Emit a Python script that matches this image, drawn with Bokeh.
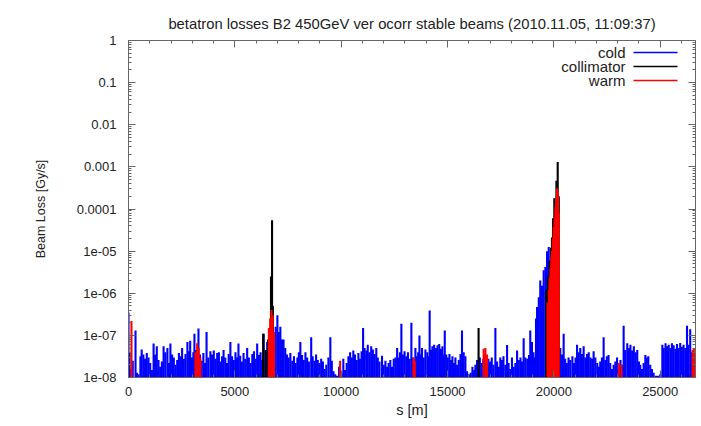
from bokeh.plotting import figure
from bokeh.models import (ColumnDataSource, FixedTicker, Range1d, LinearAxis,
                          LogAxis, Label, BoxAnnotation, CustomLabelingPolicy)
from bokeh.embed import file_html
from bokeh.resources import INLINE

# ---------------- texts ----------------
title_text = "betatron losses B2 450GeV ver ocorr stable beams (2010.11.05, 11:09:37)"
x_label = "s [m]"
y_label = "Beam Loss [Gy/s]"
series_names = ["cold", "collimator", "warm"]
series_colors = ["#0000ff", "#000000", "#ff0000"]

x_ticks = [0, 5000, 10000, 15000, 20000, 25000]
x_tick_labels = ["0", "5000", "10000", "15000", "20000", "25000"]
y_ticks = [1e-8, 1e-7, 1e-6, 1e-5, 1e-4, 1e-3, 1e-2, 1e-1, 1.0]
y_tick_labels = ["1e-08", "1e-07", "1e-06", "1e-05", "0.0001", "0.001", "0.01", "0.1", "1"]

s_max = 26659      # ring circumference [m]
loss_floor = 1e-8  # lower end of the log axis [Gy/s]

# ---------------- data: (s [m], loss [Gy/s]) ----------------
cold_0_5km = [
    (0, 3.5e-7), (50, 4e-8), (120, 1.6e-8), (200, 2.5e-8), (330, 1.3e-7), (400, 1.3e-8),
    (470, 1.2e-8), (560, 3.2e-8), (620, 4.6e-8), (700, 3.5e-8), (780, 2.8e-8), (860, 3.8e-8),
    (940, 3.0e-8), (1020, 2.2e-8), (1100, 1.5e-8), (1180, 6.4e-8), (1250, 3.5e-8), (1330, 5.5e-8),
    (1410, 2.6e-8), (1490, 1.8e-8), (1570, 2.4e-8), (1650, 5.5e-8), (1730, 4.0e-8), (1830, 5.0e-8),
    (1900, 2.2e-8), (1970, 6.4e-8), (2050, 3.5e-8), (2130, 3.0e-8), (2210, 2.0e-8), (2290, 2.6e-8),
    (2370, 3.8e-8), (2450, 3.2e-8), (2520, 5.0e-8), (2600, 2.8e-8), (2680, 3.6e-8), (2770, 7.0e-8),
    (2850, 4.2e-8), (2900, 7.5e-8), (2980, 3.0e-8), (3050, 4.0e-8), (3100, 1.1e-7), (3180, 4.5e-8),
    (3290, 1.45e-7), (3360, 3.5e-8), (3440, 2.5e-8), (3520, 3.8e-8), (3600, 2.2e-8), (3670, 1.2e-7),
    (3750, 3.0e-8), (3850, 4.2e-8), (3930, 3.5e-8), (4010, 4.4e-8), (4090, 2.8e-8), (4170, 3.8e-8),
    (4250, 4.0e-8), (4320, 2.4e-8), (4400, 3.2e-8), (4470, 4.5e-8), (4550, 3.0e-8), (4630, 2.2e-8),
    (4710, 3.6e-8), (4790, 7.0e-8), (4870, 3.2e-8), (4950, 2.6e-8),
]
cold_5_10km = [
    (5030, 4.0e-8), (5100, 3.0e-8), (5170, 6.4e-8), (5250, 3.3e-8), (5330, 2.4e-8), (5410, 3.8e-8),
    (5490, 2.8e-8), (5580, 5.0e-8), (5660, 3.0e-8), (5740, 2.2e-8), (5820, 3.6e-8), (5900, 4.2e-8),
    (5980, 2.8e-8), (6050, 6.4e-8), (6130, 3.4e-8), (6210, 4.0e-8), (6280, 2.6e-8), (6360, 1.1e-7),
    (6440, 3.0e-8), (6520, 7.0e-8), (6600, 5.0e-8), (6680, 6.0e-8), (6760, 8.0e-8), (6840, 1.0e-7),
    (6920, 1.6e-7), (7000, 3.0e-7), (7070, 1.2e-7), (7140, 1.6e-7), (7220, 8.0e-8), (7290, 8.0e-8),
    (7370, 5.0e-8), (7450, 3.5e-8), (7530, 3.0e-8), (7610, 3.8e-8), (7700, 2.5e-8), (7780, 3.2e-8),
    (7860, 2.2e-8), (7940, 3.0e-8), (8010, 4.0e-8), (8080, 7.0e-8), (8160, 3.4e-8), (8240, 2.6e-8),
    (8320, 4.0e-8), (8400, 3.0e-8), (8480, 2.4e-8), (8590, 9.0e-8), (8660, 3.2e-8), (8740, 2.5e-8),
    (8820, 3.5e-8), (8900, 2.6e-8), (8980, 2.2e-8), (9060, 2.8e-8), (9140, 2.4e-8), (9220, 1.6e-8),
    (9300, 2.0e-8), (9400, 3.0e-8), (9490, 9.0e-8), (9560, 2.5e-8), (9640, 1.4e-8), (9720, 1.2e-8),
    (9800, 1.1e-8), (9900, 1.8e-8),
]
cold_10_15km = [
    (10020, 1.3e-8), (10100, 2.8e-8), (10180, 1.5e-8), (10260, 2.2e-8), (10340, 3.2e-8), (10420, 4.0e-8),
    (10500, 3.0e-8), (10570, 4.4e-8), (10650, 3.5e-8), (10730, 2.6e-8), (10810, 3.8e-8), (10880, 2.8e-8),
    (10960, 4.2e-8), (11030, 1.5e-7), (11100, 5.0e-8), (11180, 4.4e-8), (11250, 6.0e-8), (11330, 4.0e-8),
    (11410, 5.5e-8), (11490, 4.6e-8), (11570, 3.6e-8), (11650, 5.0e-8), (11720, 3.0e-8), (11800, 2.4e-8),
    (11920, 3.3e-8), (12000, 2.0e-8), (12080, 2.5e-8), (12160, 1.8e-8), (12230, 2.2e-8), (12310, 2.6e-8),
    (12390, 1.8e-8), (12470, 2.8e-8), (12550, 3.0e-8), (12630, 5.0e-8), (12700, 3.0e-8), (12760, 4.0e-8),
    (12830, 1.9e-7), (12900, 3.5e-8), (12980, 4.2e-8), (13060, 3.2e-8), (13140, 4.0e-8), (13220, 2.8e-8),
    (13300, 2.0e-7), (13380, 3.0e-8), (13490, 5.0e-8), (13560, 3.2e-8), (13620, 4.0e-8), (13680, 1.0e-7),
    (13740, 3.5e-8), (13800, 5.0e-8), (13880, 3.0e-8), (13960, 4.6e-8), (14050, 4.0e-8), (14100, 3.2e-8),
    (14160, 3.9e-7), (14230, 4.5e-8), (14290, 5.5e-8), (14370, 6.0e-8), (14450, 5.0e-8), (14530, 5.8e-8),
    (14610, 6.2e-8), (14690, 4.8e-8), (14760, 5.5e-8), (14820, 3.5e-8), (14870, 1.3e-7), (14940, 3.5e-8),
]
cold_15_20km = [
    (15010, 3.0e-8), (15090, 3.6e-8), (15160, 2.6e-8), (15230, 3.2e-8), (15300, 2.2e-8), (15370, 3.0e-8),
    (15450, 2.0e-8), (15530, 2.6e-8), (15610, 3.6e-8), (15680, 1.3e-7), (15760, 4.0e-8), (15840, 3.2e-8),
    (15920, 1.4e-8), (16000, 1.2e-8), (16090, 1.3e-8), (16170, 1.8e-8), (16250, 1.5e-8), (16310, 2.0e-8),
    (16390, 2.6e-8), (16520, 3.0e-8), (16600, 2.2e-8), (16680, 2.8e-8), (16760, 3.5e-8), (16840, 2.4e-8),
    (16920, 2.8e-8), (17000, 2.4e-8), (17080, 3.0e-8), (17160, 2.0e-8), (17250, 1.5e-7), (17330, 2.4e-8),
    (17410, 1.8e-8), (17480, 3.0e-8), (17560, 2.6e-8), (17630, 3.2e-8), (17720, 2.0e-8), (17800, 5.9e-8),
    (17870, 2.2e-8), (17950, 1.6e-8), (18030, 3.0e-8), (18110, 1.8e-8), (18190, 2.2e-8), (18270, 4.4e-8),
    (18350, 2.6e-8), (18430, 3.0e-8), (18500, 2.4e-8), (18580, 8.5e-8), (18660, 3.0e-8), (18750, 2.8e-8),
    (18830, 3.4e-8), (18890, 1.3e-7), (18970, 7.0e-8), (19040, 4.0e-8), (19100, 3.0e-8), (19160, 2.5e-7),
    (19210, 4.7e-7), (19290, 8.0e-7), (19360, 2.0e-6), (19440, 1.5e-6), (19520, 3.5e-6), (19600, 4.2e-6),
    (19680, 1.0e-5), (19760, 1.25e-5),
]
cold_20_27km = [
    (20300, 5.0e-8), (20380, 3.5e-8), (20460, 1.1e-7), (20530, 2.8e-8), (20610, 2.2e-8), (20690, 3.0e-8),
    (20770, 2.6e-8), (20870, 3.2e-8), (20950, 2.2e-8), (21020, 3.0e-8), (21090, 6.0e-8), (21170, 4.0e-8),
    (21240, 5.0e-8), (21320, 3.6e-8), (21400, 5.5e-8), (21480, 3.0e-8), (21560, 3.6e-8), (21640, 4.0e-8),
    (21720, 3.0e-8), (21800, 2.8e-8), (21870, 4.2e-8), (21950, 3.0e-8), (22040, 2.2e-8), (22110, 1.8e-8),
    (22180, 2.4e-8), (22260, 3.0e-8), (22340, 9.0e-8), (22420, 2.6e-8), (22490, 3.2e-8), (22570, 3.4e-8),
    (22650, 2.2e-8), (22730, 1.6e-8), (22810, 2.0e-8), (22890, 2.4e-8), (22970, 3.0e-8), (23050, 2.0e-8),
    (23130, 2.6e-8), (23200, 2.0e-8), (23280, 1.7e-7), (23350, 4.5e-8), (23450, 6.5e-8), (23530, 5.0e-8),
    (23600, 6.0e-8), (23680, 4.4e-8), (23760, 5.5e-8), (23840, 4.0e-8), (23920, 4.5e-8), (24000, 2.4e-8),
    (24060, 2.0e-8), (24140, 1.6e-8), (24220, 2.2e-8), (24300, 3.4e-8), (24370, 3.0e-8), (24440, 3.2e-8),
    (24530, 2.0e-8), (24610, 1.6e-8), (24690, 1.3e-8), (24800, 1.1e-8), (24900, 1.1e-8), (25000, 1.2e-8),
    (25100, 6.0e-8), (25170, 5.0e-8), (25250, 6.5e-8), (25320, 5.5e-8), (25400, 6.0e-8), (25480, 5.0e-8),
    (25550, 6.5e-8), (25630, 5.8e-8), (25710, 4.8e-8), (25790, 6.2e-8), (25860, 5.0e-8), (25940, 6.6e-8),
    (26020, 5.4e-8), (26100, 6.0e-8), (26180, 5.0e-8), (26260, 1.7e-7), (26330, 6.0e-8), (26410, 1.4e-7),
    (26480, 4.0e-8), (26560, 3.0e-8), (26640, 2.5e-8),
]
collimator = [
    (6330, 1.1e-7), (6450, 4.5e-8), (6560, 8.0e-8), (6700, 2.5e-6), (6750, 5.4e-5), (6790, 5.0e-7),
    (16460, 1.5e-7),
    (19640, 1.2e-6), (19720, 2.5e-6), (19800, 6.0e-6), (19870, 1.2e-5), (19910, 2.1e-5),
    (19960, 6.0e-5), (20020, 1.8e-4), (20120, 4.7e-4), (20180, 1.3e-3), (20230, 2.0e-4),
]
warm = [
    (140, 2.2e-7), (3150, 4.0e-8), (3230, 6.5e-8), (3300, 5.0e-8), (3380, 3.0e-8),
    (6600, 1.5e-7), (6660, 2.5e-7), (6720, 4.0e-7), (6780, 3.0e-7), (6840, 1.2e-7),
    (9950, 2.5e-8), (13400, 3.0e-8), (13460, 2.5e-8), (16700, 4.8e-8), (16780, 5.0e-8), (16860, 3.5e-8),
    (19700, 6.0e-7), (19760, 1.2e-6), (19800, 2.4e-6), (19840, 4.0e-6), (19880, 7.0e-6), (19910, 1.0e-5),
    (19950, 2.0e-5), (19990, 3.7e-5), (20030, 6.0e-5), (20070, 1.1e-4), (20110, 1.8e-4), (20150, 3.1e-4),
    (20190, 2.5e-4), (20230, 8.0e-5),
    (23050, 2.2e-8), (23180, 2.0e-8), (26520, 4.5e-8), (26580, 5.0e-8), (26640, 4.0e-8),
]
cold = cold_0_5km + cold_5_10km + cold_10_15km + cold_15_20km + cold_20_27km

# ---------------- figure ----------------
FONT = "Liberation Sans"
TXT = "#222222"
BORDER = "#666666"

p = figure(width=701, height=426, output_backend="svg", toolbar_location=None,
           y_axis_type="log", x_range=Range1d(0, s_max), y_range=Range1d(loss_floor, 1.0),
           min_border_left=128, min_border_right=6, min_border_top=40, min_border_bottom=49)
p.background_fill_color = "white"
p.border_fill_color = "white"
p.outline_line_color = BORDER
p.xgrid.visible = False
p.ygrid.visible = False

p.title.text = title_text
p.title.align = "center"
p.title.text_font = FONT
p.title.text_font_size = "14.8px"
p.title.text_font_style = "normal"
p.title.text_color = TXT
p.title.standoff = 18

x_minor = list(range(0, s_max, 1000))
y_minor = [k * t for t in y_ticks[:-1] for k in range(2, 10)]

hide_all = CustomLabelingPolicy(code="for (const i of Array.from(indices)) indices.unset(i)")

def style(ax, show_labels):
    ax.axis_line_color = BORDER
    ax.major_tick_line_color = BORDER
    ax.minor_tick_line_color = BORDER
    ax.major_tick_in = 7
    ax.major_tick_out = 0
    ax.minor_tick_in = 3
    ax.minor_tick_out = 0
    ax.major_label_text_font = FONT
    ax.major_label_text_color = TXT
    ax.axis_label_text_font = FONT
    ax.axis_label_text_color = TXT
    ax.axis_label_text_font_style = "normal"
    if show_labels:
        ax.major_label_text_font_size = "13px"
    else:
        ax.major_label_text_font_size = "1px"
        ax.major_label_text_alpha = 0
        ax.major_label_standoff = 0
        ax.major_label_policy = hide_all

xt = FixedTicker(ticks=x_ticks, minor_ticks=x_minor)
yt = FixedTicker(ticks=y_ticks, minor_ticks=y_minor)

xa = p.xaxis[0]
xa.ticker = xt
xa.major_label_overrides = dict(zip(x_ticks, x_tick_labels))
xa.axis_label = x_label
xa.axis_label_text_font_size = "14.5px"
xa.axis_label_standoff = 3
style(xa, True)
xa.major_label_standoff = 9

ya = p.yaxis[0]
ya.ticker = yt
ya.major_label_overrides = dict(zip(y_ticks, y_tick_labels))
ya.axis_label = y_label
ya.axis_label_text_font_size = "12.5px"
ya.axis_label_standoff = 26
style(ya, True)
ya.major_label_standoff = 12

top = LinearAxis(ticker=FixedTicker(ticks=x_ticks, minor_ticks=x_minor))
style(top, False)
p.add_layout(top, "above")
right = LogAxis(ticker=FixedTicker(ticks=y_ticks, minor_ticks=y_minor))
style(right, False)
p.add_layout(right, "right")

# impulses, drawn in the order cold, collimator, warm
for data, color in zip([cold, collimator, warm], series_colors):
    s_vals = [d[0] for d in data]
    v_vals = [d[1] for d in data]
    src = ColumnDataSource(dict(s=s_vals, v=v_vals))
    p.segment(x0="s", y0=loss_floor, x1="s", y1="v", source=src,
              line_color=color, line_width=2.1)

# gnuplot-style key: text right-aligned, line sample to its right (frame-relative px)
key_text_right = 497
key_line_left, key_line_right = 505, 549
key_rows = [325, 311, 297]
for name, color, yy in zip(series_names, series_colors, key_rows):
    p.add_layout(Label(x=key_text_right, y=yy, x_units="screen", y_units="screen",
                       text=name, text_align="right", text_baseline="middle",
                       text_font=FONT, text_font_size="15px", text_color=TXT))
    p.add_layout(BoxAnnotation(left=key_line_left, right=key_line_right,
                               bottom=yy - 0.75, top=yy + 0.75,
                               left_units="screen", right_units="screen",
                               bottom_units="screen", top_units="screen",
                               fill_color=color, fill_alpha=1.0, line_alpha=0))

open("out.html", "w").write(file_html(p, INLINE))
